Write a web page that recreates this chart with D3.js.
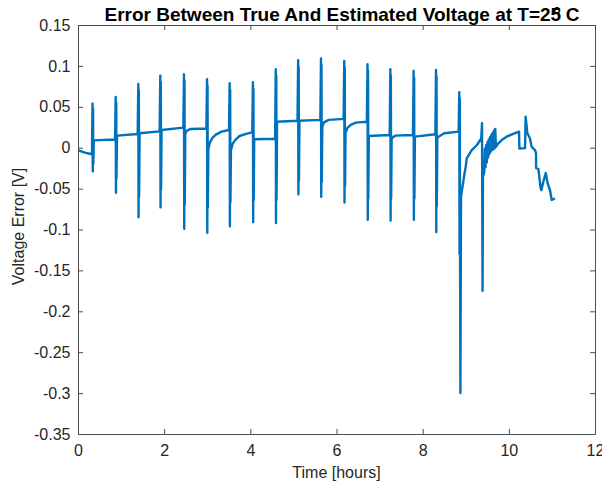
<!DOCTYPE html>
<html>
<head>
<meta charset="utf-8">
<script src="https://cdn.jsdelivr.net/npm/d3@7"></script>
<style>
  body { margin: 0; background: #fff; }
  text { font-family: "Liberation Sans", Arial, Helvetica, sans-serif; }
</style>
</head>
<body>
<div id="chart"></div>
<script>
// values, time in hours / error in volts
const timeHours = [
  0, 0.16, 0.325,
  0.337, 0.343, 0.349, 0.355, 0.367, 0.86,
  0.875, 0.881, 0.887, 0.893, 0.905, 1.385,
  1.40, 1.406, 1.412, 1.418, 1.43, 1.895,
  1.91, 1.916, 1.922, 1.928, 1.94, 2.445,
  2.46, 2.466, 2.472, 2.478, 2.49, 2.53, 2.62, 2.98,
  2.995, 3.001, 3.007, 3.013, 3.025, 3.06, 3.12, 3.2, 3.33, 3.505,
  3.52, 3.526, 3.532, 3.538, 3.55, 3.59, 3.66, 3.75, 3.9, 4.045,
  4.06, 4.066, 4.072, 4.078, 4.09, 4.575,
  4.59, 4.596, 4.602, 4.608, 4.62, 5.095,
  5.11, 5.116, 5.122, 5.128, 5.14, 5.625,
  5.64, 5.646, 5.652, 5.658, 5.67, 5.71, 5.82, 6.165,
  6.18, 6.186, 6.192, 6.198, 6.21, 6.25, 6.33, 6.45, 6.705,
  6.72, 6.726, 6.732, 6.738, 6.75, 7.235,
  7.25, 7.256, 7.262, 7.268, 7.28, 7.36, 7.775,
  7.79, 7.796, 7.802, 7.808, 7.82, 8.295,
  8.31, 8.316, 8.322, 8.328, 8.34, 8.5, 8.835,
  8.85, 8.856, 8.862, 8.868, 8.876, 8.89, 8.967, 9.0, 9.023, 9.139, 9.255, 9.36,
  9.378, 9.39, 9.40, 9.43,
  9.445, 9.46, 9.475, 9.49, 9.505, 9.52, 9.535, 9.55, 9.565, 9.58,
  9.595, 9.61, 9.625, 9.64, 9.655, 9.67, 9.685, 9.70,
  9.75, 9.85, 9.95, 10.1, 10.237,
  10.245, 10.376, 10.39, 10.43, 10.49, 10.53, 10.608, 10.63, 10.635,
  10.685, 10.74, 10.755, 10.80, 10.857, 10.903, 10.956, 10.996, 11.07
];
const errorVolts = [
  -0.003, -0.006, -0.008,
  0.054, -0.029, 0.048, -0.020, 0.009, 0.010,
  0.062, -0.055, 0.055, -0.038, 0.0147, 0.0167,
  0.078, -0.085, 0.070, -0.060, 0.0176, 0.020,
  0.088, -0.073, 0.080, -0.051, 0.0216, 0.0245,
  0.0897, -0.099, 0.082, -0.069, 0.017, 0.021, 0.0229, 0.0235,
  0.0836, -0.104, 0.076, -0.073, -0.002, 0.006, 0.012, 0.016, 0.0196, 0.0216,
  0.0787, -0.096, 0.071, -0.067, -0.003, 0.005, 0.010, 0.0143, 0.017, 0.0188,
  0.080, -0.091, 0.072, -0.064, 0.0103, 0.011,
  0.096, -0.092, 0.088, -0.064, 0.0318, 0.033,
  0.107, -0.057, 0.099, -0.040, 0.033, 0.034,
  0.109, -0.060, 0.101, -0.042, 0.026, 0.031, 0.034, 0.0352,
  0.106, -0.067, 0.098, -0.047, 0.0176, 0.024, 0.028, 0.0306, 0.0318,
  0.102, -0.088, 0.094, -0.062, 0.0143, 0.0155,
  0.096, -0.089, 0.088, -0.062, 0.0115, 0.0147, 0.0155,
  0.094, -0.088, 0.086, -0.062, 0.0135, 0.0164,
  0.095, -0.103, 0.087, -0.072, 0.0125, 0.0176, 0.0196,
  0.068, -0.13, 0.06, -0.13, -0.300, -0.06, -0.033, -0.023, -0.013, -0.003, 0.003, 0.0115,
  0.030, -0.175, -0.035, -0.030,
  -0.001, -0.024, 0.003, -0.018, 0.007, -0.012, 0.010, -0.008, 0.013, -0.005,
  0.016, -0.003, 0.018, -0.002, 0.021, -0.001, 0.023, 0.001,
  0.005, 0.010, 0.0135, 0.017, 0.0196,
  -0.001, -0.0005, 0.038, 0.0176, 0.0115, 0.001, -0.003, -0.007, -0.025,
  -0.026, -0.050, -0.052, -0.042, -0.031, -0.044, -0.052, -0.064, -0.062
];

const xTicks = [0, 2, 4, 6, 8, 10, 12];
const yTicks = [-0.35, -0.3, -0.25, -0.2, -0.15, -0.1, -0.05, 0, 0.05, 0.1, 0.15];

const width = 602, height = 488;
const margin = { top: 25, right: 7, bottom: 54, left: 78 };

const svg = d3.select("#chart")
  .append("svg")
  .attr("width", width)
  .attr("height", height);

const x = d3.scaleLinear().domain([0, 12]).range([margin.left, width - margin.right]);
const y = d3.scaleLinear().domain([-0.35, 0.15]).range([height - margin.bottom, margin.top]);

const axisColor = "#4d4d4d";
const textColor = "#262626";

svg.append("clipPath").attr("id", "clip")
  .append("rect")
  .attr("x", margin.left).attr("y", margin.top)
  .attr("width", x(12) - x(0)).attr("height", y(-0.35) - y(0.15));

const points = timeHours.map((t, i) => [t, errorVolts[i]]);

const line = d3.line()
  .x(d => x(d[0]))
  .y(d => y(d[1]));

svg.append("path")
  .datum(points)
  .attr("clip-path", "url(#clip)")
  .attr("fill", "none")
  .attr("stroke", "#0072BD")
  .attr("stroke-width", 2.4)
  .attr("stroke-linejoin", "round")
  .attr("d", line);

function styleAxis(g) {
  g.attr("font-family", null).attr("font-size", null);
  g.select(".domain").attr("stroke", axisColor);
  g.selectAll(".tick line").attr("stroke", axisColor);
  g.selectAll(".tick text").attr("fill", textColor).style("font-size", "16px");
}

// plain hyphen for negatives, like the reference
const fmt = d => String(+d.toFixed(2));

svg.append("g")
  .attr("transform", `translate(0,${y(-0.35)})`)
  .call(d3.axisBottom(x).tickValues(xTicks).tickFormat(fmt).tickSizeInner(-5).tickSizeOuter(0).tickPadding(11))
  .call(styleAxis);

svg.append("g")
  .attr("transform", `translate(0,${y(0.15)})`)
  .call(d3.axisTop(x).tickValues(xTicks).tickFormat("").tickSizeInner(-5).tickSizeOuter(0))
  .call(styleAxis);

svg.append("g")
  .attr("transform", `translate(${x(0)},0)`)
  .call(d3.axisLeft(y).tickValues(yTicks).tickFormat(fmt).tickSizeInner(-5).tickSizeOuter(0).tickPadding(7.5))
  .call(styleAxis);

svg.append("g")
  .attr("transform", `translate(${x(12)},0)`)
  .call(d3.axisRight(y).tickValues(yTicks).tickFormat("").tickSizeInner(-5).tickSizeOuter(0))
  .call(styleAxis);

// labels
svg.append("text")
  .attr("x", (x(0) + x(12)) / 2)
  .attr("y", 478)
  .attr("text-anchor", "middle")
  .attr("fill", textColor)
  .style("font-size", "16px")
  .text("Time [hours]");

svg.append("text")
  .attr("transform", `translate(24,${(y(-0.35) + y(0.15)) / 2 - 3}) rotate(-90)`)
  .attr("text-anchor", "middle")
  .attr("fill", textColor)
  .style("font-size", "16px")
  .text("Voltage Error [V]");

const title = svg.append("text")
  .attr("x", 342)
  .attr("y", 21)
  .attr("text-anchor", "middle")
  .attr("fill", "#000")
  .style("font-size", "19px")
  .style("font-weight", "bold");
title.append("tspan").text("Error Between True And Estimated Voltage at T=25");
title.append("tspan").attr("dx", -8).attr("dy", -7).style("font-size", "12px").text("o");
title.append("tspan").attr("dy", 7).text(" C");
</script>
</body>
</html>
